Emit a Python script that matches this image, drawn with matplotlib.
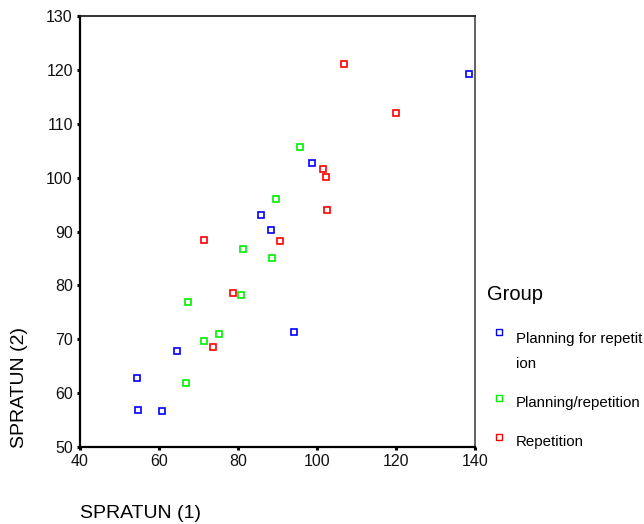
import matplotlib
matplotlib.use("Agg")
import matplotlib.pyplot as plt
from matplotlib.lines import Line2D

plt.rcParams['font.family'] = ['Liberation Sans', 'DejaVu Sans']

groups = ["Planning for repetit\nion", "Planning/repetition", "Repetition"]
colors = ["#0000ff", "#00f000", "#ff0000"]

plan_rep_x = [138.5, 98.7, 85.9, 88.4, 94.3, 64.5, 54.4, 54.8, 60.8]
plan_rep_y = [119.2, 102.7, 93.1, 90.2, 71.3, 67.9, 62.8, 56.9, 56.7]

plan_slash_x = [95.7, 89.5, 81.3, 88.5, 80.8, 67.4, 75.1, 71.4, 66.8]
plan_slash_y = [105.6, 96.0, 86.7, 85.1, 78.2, 76.9, 71.0, 69.7, 61.9]

rep_x = [106.9, 120.0, 101.4, 102.2, 102.6, 71.4, 90.6, 78.7, 73.6]
rep_y = [121.0, 112.0, 101.6, 100.1, 93.9, 88.5, 88.3, 78.6, 68.6]

xticks = [40, 60, 80, 100, 120, 140]
yticks = [50, 60, 70, 80, 90, 100, 110, 120, 130]

W, H = 644, 524
fig = plt.figure(figsize=(W / 100, H / 100), dpi=100)
ax = fig.add_axes([80 / W, (H - 447) / H, 395 / W, 431 / H])

series = [(plan_rep_x, plan_rep_y), (plan_slash_x, plan_slash_y), (rep_x, rep_y)]
for (xs, ys), c in zip(series, colors):
    ax.plot(xs, ys, linestyle='none', marker='s', markersize=5,
            markerfacecolor='white', markeredgecolor=c, markeredgewidth=1.2)

ax.set_xlim(40, 140)
ax.set_ylim(50, 130)
ax.set_xticks(xticks)
ax.set_yticks(yticks)
ax.tick_params(direction='out', length=2.2, width=2.2, labelsize=11.5,
               color='black', pad=3, labelcolor='#111111')

ax.spines['left'].set_linewidth(1.6)
ax.spines['bottom'].set_linewidth(1.6)
ax.spines['top'].set_linewidth(1.3)
ax.spines['top'].set_color('#222222')
ax.spines['right'].set_linewidth(1.3)
ax.spines['right'].set_color('#555555')

ax.set_xlabel('SPRATUN (1)', fontsize=14, ha='left', va='center')
ax.xaxis.set_label_coords(0.0, (447 - 513) / 431)
ax.set_ylabel('SPRATUN (2)', fontsize=14, ha='center', va='center')
ax.yaxis.set_label_coords((20 - 80) / 395, (447 - 387) / 431)

# Legend (drawn manually to match layout)
fig.text(487 / W, 1 - 294 / H, 'Group', fontsize=14.5, ha='left', va='center')
marker_y = [332, 398, 437]
text_y = [339, 404, 442.5]
for lab, c, my, ty in zip(groups, colors, marker_y, text_y):
    fig.add_artist(Line2D([499 / W], [1 - my / H], transform=fig.transFigure,
                          linestyle='none', marker='s', markersize=3.8,
                          markerfacecolor='white', markeredgecolor=c,
                          markeredgewidth=1.0))
    fig.text(516 / W, 1 - (ty - 7.5) / H, lab, fontsize=10.8, ha='left', va='top',
             linespacing=2.0)

fig.savefig('out.png', dpi=100)
